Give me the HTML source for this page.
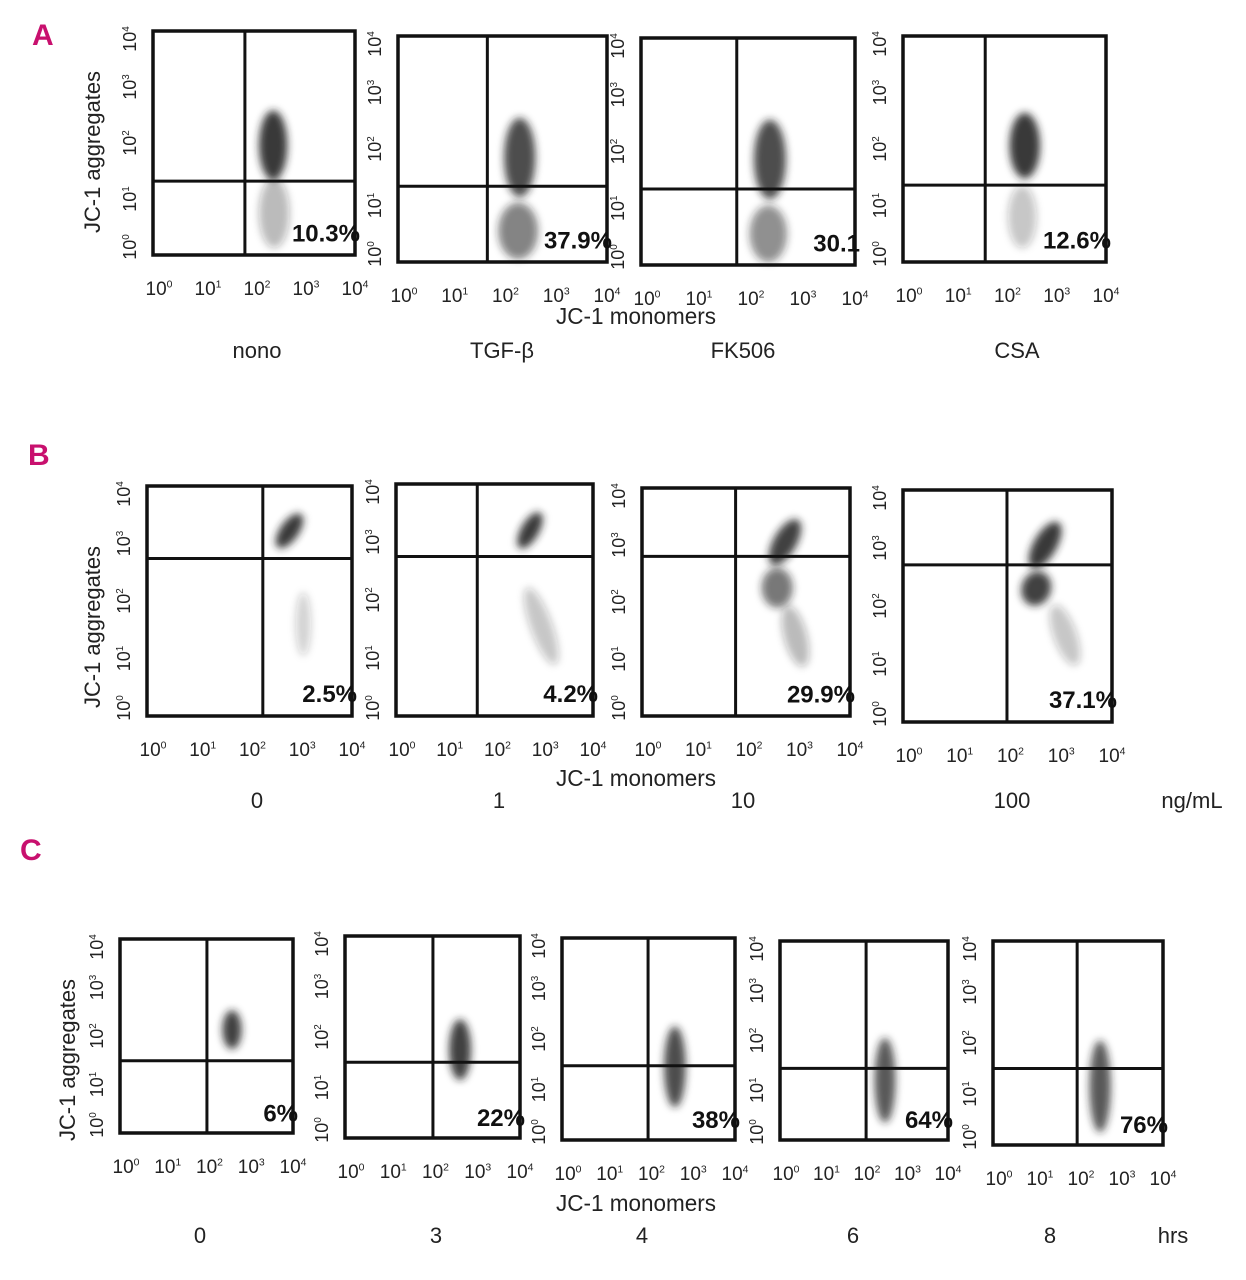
<!DOCTYPE html>
<html><head><meta charset="utf-8"><style>
html,body{margin:0;padding:0;background:#fff;}
svg{display:block;}
text{font-family:"Liberation Sans Narrow","Liberation Sans",sans-serif;fill:#222;}
</style></head><body>
<svg id="fig" width="1246" height="1280" viewBox="0 0 1246 1280" xmlns="http://www.w3.org/2000/svg">
<defs>
<filter id="blur" x="-50%" y="-50%" width="200%" height="200%"><feGaussianBlur stdDeviation="4"/></filter>
</defs>
<text x="32" y="45" font-size="30" font-weight="bold" style="fill:#c8106e">A</text>
<text x="28" y="465" font-size="30" font-weight="bold" style="fill:#c8106e">B</text>
<text x="20" y="860" font-size="30" font-weight="bold" style="fill:#c8106e">C</text>
<g id="root"></g>
</svg>
<script>
// Per-panel data (log10 units)
const percentA = ["10.3%","37.9%","30.1","12.6%"];
const percentB = ["2.5%","4.2%","29.9%","37.1%"];
const percentC = ["6%","22%","38%","64%","76%"];
const conditionsA = ["nono","TGF-β","FK506","CSA"];
const conditionsB = ["0","1","10","100"];
const conditionsC = ["0","3","4","6","8"];
// quadrant gate positions [xGate, yGate]
const gatesA = [[1.82,1.32],[1.71,1.34],[1.79,1.34],[1.62,1.36]];
const gatesB = [[2.26,2.74],[1.65,2.75],[1.80,2.80],[1.99,2.71]];
const gatesC = [[2.01,1.49],[2.01,1.50],[1.99,1.47],[2.05,1.44],[1.98,1.50]];
// cloud ellipses [cx, cy, rx, ry, opacity, rotation]
const cloudsA = [
 [[2.38,1.96,0.28,0.62,0.9,0],[2.40,0.75,0.30,0.62,0.3,0]],
 [[2.33,1.85,0.30,0.70,0.8,0],[2.30,0.55,0.38,0.50,0.55,0]],
 [[2.41,1.86,0.30,0.70,0.8,0],[2.38,0.55,0.35,0.50,0.5,0]],
 [[2.40,2.06,0.30,0.58,0.9,0],[2.35,0.80,0.28,0.55,0.25,0]]
];
const cloudsB = [
 [[2.78,3.22,0.18,0.35,0.9,35],[3.05,1.60,0.15,0.55,0.2,0]],
 [[2.72,3.20,0.18,0.35,0.9,30],[2.95,1.55,0.22,0.70,0.25,-20]],
 [[2.75,3.05,0.22,0.45,0.85,30],[2.60,2.25,0.30,0.35,0.6,0],[2.95,1.40,0.22,0.55,0.3,-15]],
 [[2.72,3.05,0.22,0.45,0.9,30],[2.55,2.30,0.28,0.30,0.85,20],[3.10,1.50,0.22,0.55,0.25,-20]]
];
const cloudsC = [
 [[2.59,2.13,0.22,0.40,0.85,0]],
 [[2.63,1.75,0.25,0.60,0.85,0]],
 [[2.61,1.45,0.25,0.80,0.8,0]],
 [[2.50,1.20,0.25,0.85,0.75,0]],
 [[2.52,1.15,0.25,0.90,0.75,0]]
];
// layout
const boxesA = [[153,31,355,255],[398,36,607,262],[641,38,855,265],[903,36,1106,262]];
const boxesB = [[147,486,352,716],[396,484,593,716],[642,488,850,716],[903,490,1112,722]];
const boxesC = [[120,939,293,1133],[345,936,520,1138],[562,938,735,1140],[780,941,948,1140],[993,941,1163,1145]];
const labelXA = [257,502,743,1017];
const labelXB = [257,499,743,1012];
const labelXC = [200,436,642,853,1050];

const NS="http://www.w3.org/2000/svg";
const root=document.getElementById('root');
function mk(tag,attrs,parent){const e=document.createElementNS(NS,tag);for(const k in attrs)e.setAttribute(k,attrs[k]);(parent||root).appendChild(e);return e;}
function pow10(parent,x,y,exp,size,rot){
  const t=mk('text',{x:x,y:y,'font-size':size,'text-anchor':'middle'},parent);
  if(rot)t.setAttribute('transform','rotate(-90 '+x+' '+y+')');
  t.textContent='10';
  const s=mk('tspan',{'font-size':size*0.55,dy:-size*0.4},t);s.textContent=exp;
  return t;
}
function panel(box,gate,clouds,pct,name,fs){
  const [x0,y0,x1,y1]=box;
  const sx=v=>x0+(x1-x0)*v/4, sy=v=>y1-(y1-y0)*v/4;
  const g=mk('g',{});
  
  
  clouds.forEach((c)=>{
    const rx=(x1-x0)*c[2]/4, ry=(y1-y0)*c[3]/4, cx=sx(c[0]), cy=sy(c[1]);
    const e=mk('ellipse',{cx:cx,cy:cy,rx:rx,ry:ry,fill:'#222','fill-opacity':c[4],filter:'url(#blur)',transform:'rotate('+c[5]+' '+cx+' '+cy+')'},g);
    
    
  });
  const r=mk('rect',{x:x0,y:y0,width:x1-x0,height:y1-y0,fill:'none',stroke:'#111','stroke-width':3.5},g);
  
  
  const v=mk('line',{x1:sx(gate[0]),x2:sx(gate[0]),y1:y0,y2:y1,stroke:'#111','stroke-width':3},g);
  
  
  const h=mk('line',{x1:x0,x2:x1,y1:sy(gate[1]),y2:sy(gate[1]),stroke:'#111','stroke-width':3},g);
  
  
  const t=mk('text',{x:x1+5,y:y1-(y1-y0)*0.06,'font-size':fs,'font-weight':'bold','text-anchor':'end'},g);
  t.style.fontFamily='"Liberation Sans",sans-serif';
  t.style.fill='#111';
  t.textContent=pct;
  
  
  for(let k=0;k<=4;k++){
    const yt=pow10(g,x0-17,sy(k)+(k==0?-8:(k==4?8:0)),k,18,true);
    
    
  }
  for(let k=0;k<=4;k++){
    const xt=pow10(g,x0+6+(x1-x0-6)*k/4,y1+40,k,19,false);
    
    
  }
}
function row(boxes,gates,clouds,pcts,conds,labelX,prefix,fs,condY){
  boxes.forEach((b,i)=>{
    panel(b,gates[i],clouds[i],pcts[i],prefix+'-plot-'+(i+1),fs);
    const c=mk('text',{x:labelX[i],y:condY,'font-size':22,'text-anchor':'middle'});
    c.textContent=conds[i];
    
    
  });
}
row(boxesA,gatesA,cloudsA,percentA,conditionsA,labelXA,'a',24,358);
row(boxesB,gatesB,cloudsB,percentB,conditionsB,labelXB,'b',24,808);
row(boxesC,gatesC,cloudsC,percentC,conditionsC,labelXC,'c',24,1243);
[[100,152],[100,627],[75,1060]].forEach(p=>{
  const t=mk('text',{x:p[0],y:p[1],'font-size':22,'text-anchor':'middle',textLength:162,lengthAdjust:'spacingAndGlyphs',transform:'rotate(-90 '+p[0]+' '+p[1]+')'});
  t.textContent='JC-1 aggregates';
  
  
});
[324,786,1211].forEach(y=>{
  const t=mk('text',{x:636,y:y,'font-size':23,'text-anchor':'middle',textLength:160,lengthAdjust:'spacingAndGlyphs'});
  t.textContent='JC-1 monomers';
  
  
});
const u1=mk('text',{x:1192,y:808,'font-size':22,'text-anchor':'middle'});u1.textContent='ng/mL';


const u2=mk('text',{x:1173,y:1243,'font-size':22,'text-anchor':'middle'});u2.textContent='hrs';


</script>
</body></html>
